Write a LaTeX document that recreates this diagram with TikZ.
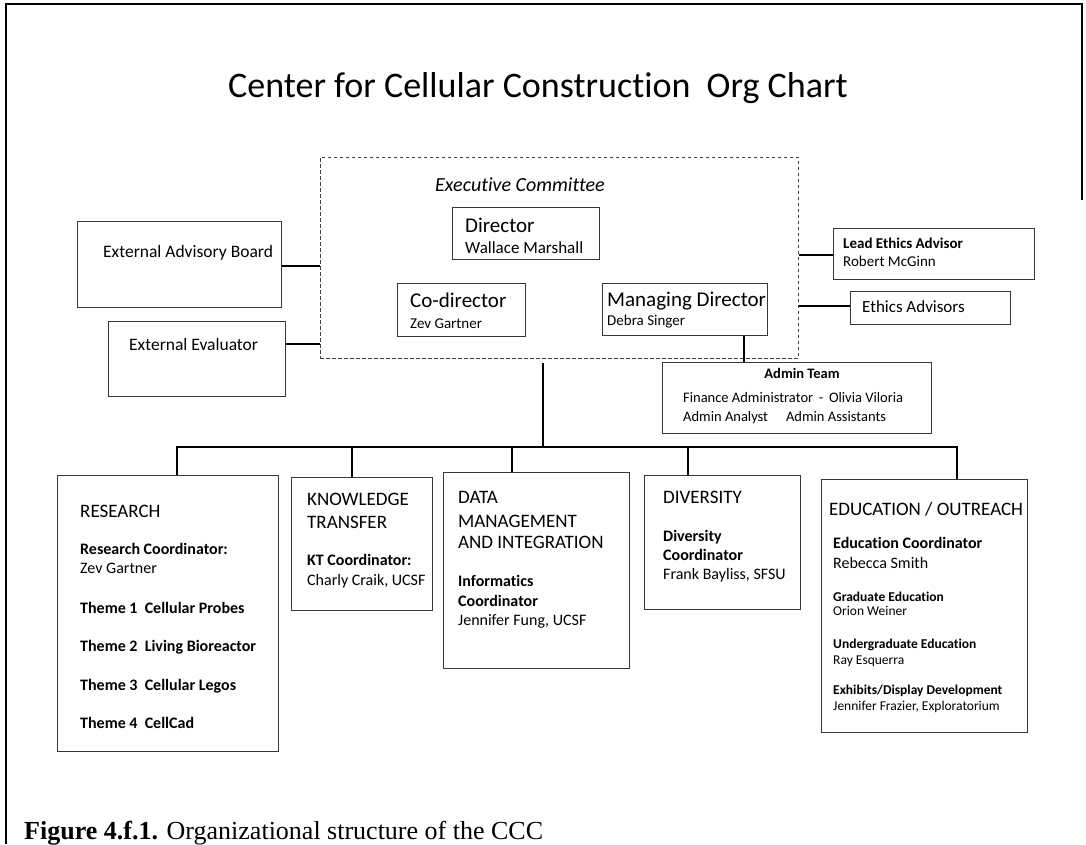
\documentclass[tikz,border=0pt]{standalone}
\usepackage{fontspec}
\setmainfont{Carlito}[Ligatures={NoCommon}]
\newfontfamily\capfont{Liberation Serif}
\newcommand\fsz[1]{\fontsize{#1}{#1}\selectfont}
\begin{document}
\begin{tikzpicture}[x=1pt,y=-1pt,
  box/.style={draw=black!78, line width=1.1pt, rectangle, inner sep=0pt, anchor=north west},
  dashbox/.style={draw=black!75, line width=0.9pt, dash pattern=on 3.5pt off 2.5pt, rectangle, inner sep=0pt, anchor=north west},
  conn/.style={line width=2.8pt, black},
  tx/.style={anchor=base west, inner sep=0pt, text=black},
  head/.style={tx, font=\fsz{21}},
  sect/.style={tx, font=\fsz{19}},
  body/.style={tx, font=\fsz{16}},
  bbody/.style={tx, font=\bfseries\fsz{16}},
  small/.style={tx, font=\fsz{13.5}},
  bsmall/.style={tx, font=\bfseries\fsz{13.5}}]
\useasboundingbox (0,0) rectangle (1086,844);
% frame
\draw[line width=2.6pt] (1082,200) -- (1082,4) -- (6,4) -- (6,844);
% title
\node[inner sep=0pt, font=\fsz{36}] (title) at (538,88) {Center for Cellular Construction\ \ Org Chart};
% executive committee
\node[dashbox, minimum width=478pt, minimum height=201pt] (exec) at (320,157) {};
\node[tx, font=\itshape\fsz{20}] (ec) at (435,191) {Executive Committee};
\node[box, minimum width=147pt, minimum height=52pt] (dir) at (452,207) {};
\node[head] (dir-t) at (465,232) {Director};
\node[tx, font=\fsz{17}] (dir-n) at (465,253) {Wallace Marshall};
\node[box, minimum width=128pt, minimum height=53pt] (codir) at (397,283) {};
\node[head] (codir-t) at (410,307) {Co-director};
\node[tx, font=\fsz{15}] (codir-n) at (410,328) {Zev Gartner};
\node[box, minimum width=165pt, minimum height=52pt] (md) at (602,283) {};
\node[head] (md-t) at (607,306) {Managing Director};
\node[tx, font=\fsz{15}] (md-n) at (607,325) {Debra Singer};
% external
\node[box, minimum width=204pt, minimum height=86pt] (eab) at (77,221) {};
\node[tx, font=\fsz{17.5}] (eab-t) at (103,257) {External Advisory Board};
\node[box, minimum width=177pt, minimum height=75pt] (ee) at (108,321) {};
\node[tx, font=\fsz{17.5}] (ee-t) at (129,350) {External Evaluator};
\draw[conn] (eab.east |- 0,266) -- (exec.west |- 0,266);
\draw[conn] (ee.east |- 0,344) -- (exec.west |- 0,344);
% ethics
\node[box, minimum width=201pt, minimum height=51pt] (lea) at (833,228) {};
\node[tx, font=\bfseries\fsz{15}] (lea-t) at (843,248) {Lead Ethics Advisor};
\node[tx, font=\fsz{15}] (lea-n) at (843,266) {Robert McGinn};
\node[box, minimum width=160pt, minimum height=33pt] (ea) at (850,291) {};
\node[tx, font=\fsz{17}] (ea-t) at (862,312) {Ethics Advisors};
\draw[conn] (exec.east |- 0,255) -- (lea.west |- 0,255);
\draw[conn] (exec.east |- 0,306) -- (ea.west |- 0,306);
% admin
\node[box, minimum width=269pt, minimum height=71pt] (admin) at (662,362) {};
\node[anchor=base, inner sep=0pt, font=\bfseries\fsz{14.5}] (admin-t) at (802,378) {Admin Team};
\node[tx, font=\fsz{14.5}] (admin-1) at (683,402) {Finance Administrator\ \,-\ \,Olivia Viloria};
\node[tx, font=\fsz{14.5}] (admin-2) at (683,421) {Admin Analyst\hspace{18pt}Admin Assistants};
\draw[conn] (md.south -| 744,0) -- (admin.north -| 744,0);
% trunk and bus
\coordinate (trunk) at (543,363);
\coordinate (jr) at (177,447);
\coordinate (jk) at (352,447);
\coordinate (jm) at (543,447);
\coordinate (jd) at (512,447);
\coordinate (jv) at (688,447);
\coordinate (je) at (957,447);
% bottom boxes
\node[box, minimum width=221pt, minimum height=276pt] (res) at (57,475) {};
\node[box, minimum width=141pt, minimum height=133pt] (kt) at (291,477) {};
\node[box, minimum width=186pt, minimum height=196pt] (dmi) at (443,472) {};
\node[box, minimum width=156pt, minimum height=134pt] (div) at (644,475) {};
\node[box, minimum width=206pt, minimum height=253pt] (edu) at (821,479) {};
\draw[conn, line join=miter] (res.north -| jr) -- (jr) -- (je) -- (edu.north -| je);
\draw[conn] (trunk) -- (jm);
\draw[conn] (jk) -- (kt.north -| jk);
\draw[conn] (jd) -- (dmi.north -| jd);
\draw[conn] (jv) -- (div.north -| jv);
% research
\node[sect] (res-h) at (80,517) {RESEARCH};
\node[bbody] (res-1) at (80,554) {Research Coordinator:};
\node[body] (res-2) at (80,573) {Zev Gartner};
\node[bbody] (res-3) at (80,613) {Theme 1\ \ Cellular Probes};
\node[bbody] (res-4) at (80,651) {Theme 2\ \ Living Bioreactor};
\node[bbody] (res-5) at (80,690) {Theme 3\ \ Cellular Legos};
\node[bbody] (res-6) at (80,728) {Theme 4\ \ CellCad};
% knowledge transfer
\node[sect] (kt-h1) at (307,505) {KNOWLEDGE};
\node[sect] (kt-h2) at (307,528) {TRANSFER};
\node[bbody] (kt-1) at (307,565) {KT Coordinator:};
\node[body] (kt-2) at (307,585) {Charly Craik, UCSF};
% data management
\node[sect] (dmi-h1) at (458,503) {DATA};
\node[sect] (dmi-h2) at (458,527) {MANAGEMENT};
\node[sect] (dmi-h3) at (458,548) {AND INTEGRATION};
\node[bbody] (dmi-1) at (458,586) {Informatics};
\node[bbody] (dmi-2) at (458,606) {Coordinator};
\node[body] (dmi-3) at (458,625) {Jennifer Fung, UCSF};
% diversity
\node[sect] (div-h) at (663,503) {DIVERSITY};
\node[bbody] (div-1) at (663,541) {Diversity};
\node[bbody] (div-2) at (663,560) {Coordinator};
\node[body] (div-3) at (663,579) {Frank Bayliss, SFSU};
% education
\node[sect] (edu-h) at (829,515) {EDUCATION / OUTREACH};
\node[bbody] (edu-1) at (833,548) {Education Coordinator};
\node[body] (edu-2) at (833,568) {Rebecca Smith};
\node[bsmall] (edu-3) at (833,601) {Graduate Education};
\node[small] (edu-4) at (833,615) {Orion Weiner};
\node[bsmall] (edu-5) at (833,648) {Undergraduate Education};
\node[small] (edu-6) at (833,664) {Ray Esquerra};
\node[bsmall] (edu-7) at (833,694) {Exhibits/Display Development};
\node[small] (edu-8) at (833,710) {Jennifer Frazier, Exploratorium};
% caption
\node[tx, font=\capfont\fsz{26}] (cap) at (24,839) {\textbf{Figure 4.f.1.} Organizational structure of the CCC};
\end{tikzpicture}
\end{document}
